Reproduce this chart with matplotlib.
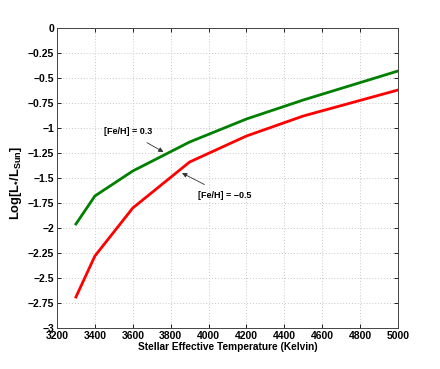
import matplotlib
matplotlib.use("Agg")
import matplotlib.pyplot as plt

plt.rcParams['font.family'] = ['Liberation Sans', 'DejaVu Sans']
plt.rcParams['font.weight'] = 'bold'
plt.rcParams['mathtext.fontset'] = 'custom'
plt.rcParams['mathtext.rm'] = 'Liberation Sans:bold'
plt.rcParams['mathtext.bf'] = 'Liberation Sans:bold'
plt.rcParams['mathtext.it'] = 'Liberation Sans:bold'

temps = [3300, 3400, 3600, 3900, 4200, 4500, 5000]
lum_high = [-1.96, -1.68, -1.43, -1.14, -0.91, -0.72, -0.43]
lum_low = [-2.69, -2.28, -1.80, -1.34, -1.08, -0.88, -0.62]
xticks = [3200, 3400, 3600, 3800, 4000, 4200, 4400, 4600, 4800, 5000]
yticks = [0, -0.25, -0.5, -0.75, -1, -1.25, -1.5, -1.75, -2, -2.25, -2.5, -2.75, -3]
ytick_labels = ['0', '\u22120.25', '\u22120.5', '\u22120.75', '\u22121', '\u22121.25', '\u22121.5',
                '\u22121.75', '\u22122', '\u22122.25', '\u22122.5', '\u22122.75', '\u22123']

fig = plt.figure(figsize=(4.4, 3.69), dpi=100)
ax = fig.add_axes([57/440, 1 - 328/369, 341/440, 300/369])

ax.plot(temps, lum_high, color='#008000', lw=2)
ax.plot(temps, lum_low, color='#ff0000', lw=2)

ax.set_xlim(3200, 5000)
ax.set_ylim(-3, 0)
ax.set_xticks(xticks)
ax.set_xticklabels([str(t) for t in xticks])
ax.set_yticks(yticks)
ax.set_yticklabels(ytick_labels)
ax.tick_params(labelsize=7.5, direction='in', length=3, width=0.6, top=True, right=True, pad=2)
for lab in ax.get_xticklabels() + ax.get_yticklabels():
    lab.set_fontweight('bold')
ax.grid(True, color='#c8c8c8', linestyle=(0, (1, 2)), lw=0.7)
for s in ax.spines.values():
    s.set_linewidth(0.7)
    s.set_color('#444444')

ax.set_xlabel('Stellar Effective Temperature (Kelvin)', fontsize=7.3, fontweight='bold', labelpad=1)
ax.set_ylabel(r'Log[L$_{*}$/L$_{\mathrm{Sun}}$]', fontsize=9.3, fontweight='bold')
ax.yaxis.set_label_coords(-0.098, 0.485)

ax.annotate('[Fe/H] = 0.3', xy=(3762, -1.24), xytext=(3575, -1.04),
            fontsize=6.5, fontweight='bold', ha='center', va='center',
            arrowprops=dict(arrowstyle='-|>', color='#333333', lw=0.6,
                            mutation_scale=7, shrinkA=5, shrinkB=0))
ax.annotate('[Fe/H] = \u22120.5', xy=(3860, -1.45), xytext=(4085, -1.67),
            fontsize=6.5, fontweight='bold', ha='center', va='center',
            arrowprops=dict(arrowstyle='-|>', color='#333333', lw=0.6,
                            mutation_scale=7, shrinkA=5, shrinkB=0))

fig.savefig('out.png', dpi=100)
